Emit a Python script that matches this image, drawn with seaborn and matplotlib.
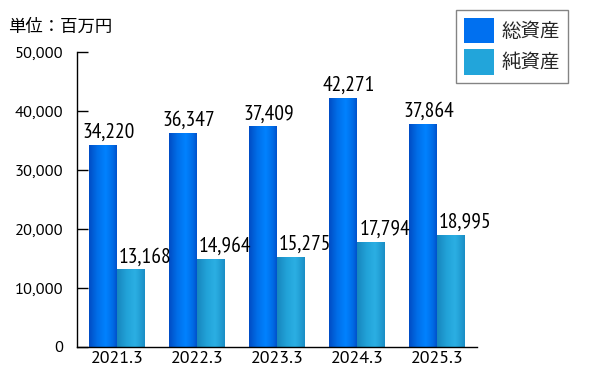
import numpy as np
import pandas as pd
import matplotlib
matplotlib.use("Agg")
import matplotlib.pyplot as plt
import seaborn as sns
from matplotlib.colors import LinearSegmentedColormap
from matplotlib.patches import Patch

categories = ["2021.3", "2022.3", "2023.3", "2024.3", "2025.3"]
series_names = ["総資産", "純資産"]
total_assets = [34220, 36347, 37409, 42271, 37864]
net_assets = [13168, 14964, 15275, 17794, 18995]
y_ticks = [0, 10000, 20000, 30000, 40000, 50000]

sns.set_theme(style="white")
plt.rcParams["font.family"] = ["PT Sans", "Noto Sans CJK JP", "DejaVu Sans"]

df = pd.DataFrame({
    "year": categories * 2,
    "series": [series_names[0]] * 5 + [series_names[1]] * 5,
    "value": total_assets + net_assets,
})

base_colors = {series_names[0]: "#0070f0", series_names[1]: "#22a5da"}
grad = {
    series_names[0]: LinearSegmentedColormap.from_list(
        "g1", [(0, "#004cc4"), (0.3, "#006ee8"), (0.6, "#0082ff"), (0.85, "#006ce6"), (1, "#0052cc")]),
    series_names[1]: LinearSegmentedColormap.from_list(
        "g2", [(0, "#1786bd"), (0.35, "#22a2d8"), (0.65, "#2bafe3"), (0.9, "#1f98cf"), (1, "#1a8cc4")]),
}

fig = plt.figure(figsize=(6, 3.91), dpi=100)
ax = fig.add_axes([77 / 600, 1 - 347 / 391, 400 / 600, 295 / 391])

sns.barplot(data=df, x="year", y="value", hue="series", palette=base_colors,
            width=0.7, gap=0, ax=ax, legend=False, saturation=1, edgecolor="none")

ax.set_xlim(-0.5, 4.5)
ax.set_ylim(0, 50000)

gradient = np.linspace(0, 1, 256).reshape(1, -1)
label_font = ["PT Sans Narrow", "PT Sans", "DejaVu Sans"]
for container, name, offs in zip(ax.containers, series_names, [0.07, 0.18]):
    for bar in container:
        x0 = bar.get_x()
        w = bar.get_width()
        h = bar.get_height()
        im = ax.imshow(gradient, extent=[x0, x0 + w, 0, h], aspect="auto",
                       cmap=grad[name], zorder=bar.get_zorder() + 0.1)
        im.set_clip_path(bar)
        ax.annotate(f"{int(h):,}", xy=(x0 + w / 2 + offs, h), xytext=(0, 5),
                    textcoords="offset points", ha="center", va="baseline",
                    fontsize=15.5, family=label_font, color="black")

ax.set_xlim(-0.5, 4.5)
ax.set_ylim(0, 50000)
ax.set_yticks(y_ticks)
ax.set_yticklabels([f"{v:,}" for v in y_ticks])
ax.set_xticks(range(len(categories)))
ax.set_xticklabels(categories)
ax.set_xticks(np.arange(-0.5, 5, 1), minor=True)
ax.tick_params(axis="x", which="major", length=0, labelsize=13, pad=3, colors="black")
ax.tick_params(axis="x", which="minor", direction="in", length=6, width=1, color="black")
ax.tick_params(axis="y", which="major", direction="in", length=8, width=1,
               labelsize=11.8, pad=10, colors="black", left=True)
ax.set_xlabel("")
ax.set_ylabel("")
for s in ["top", "right"]:
    ax.spines[s].set_visible(False)
for s in ["left", "bottom"]:
    ax.spines[s].set_color("black")
    ax.spines[s].set_linewidth(1)
ax.grid(False)

fig.text(8 / 600, 1 - 27 / 391, "単位：百万円", fontsize=12.5, va="center", ha="left",
         family=["Noto Sans CJK JP", "DejaVu Sans"], color="black")

handles = [Patch(facecolor="#0070f0", edgecolor="none"), Patch(facecolor="#22a5da", edgecolor="none")]
leg = fig.legend(handles, series_names, loc="upper left",
                 bbox_to_anchor=(456 / 600, 1 - 10 / 391), frameon=True, fancybox=False,
                 prop={"family": ["Noto Sans CJK JP", "DejaVu Sans"], "size": 14},
                 handlelength=1.55, handleheight=1.65, handletextpad=0.4,
                 labelspacing=0.3, borderpad=0.4, borderaxespad=0)
leg.get_frame().set_edgecolor("#666666")
leg.get_frame().set_linewidth(1)

fig.savefig("out.png", dpi=100)
